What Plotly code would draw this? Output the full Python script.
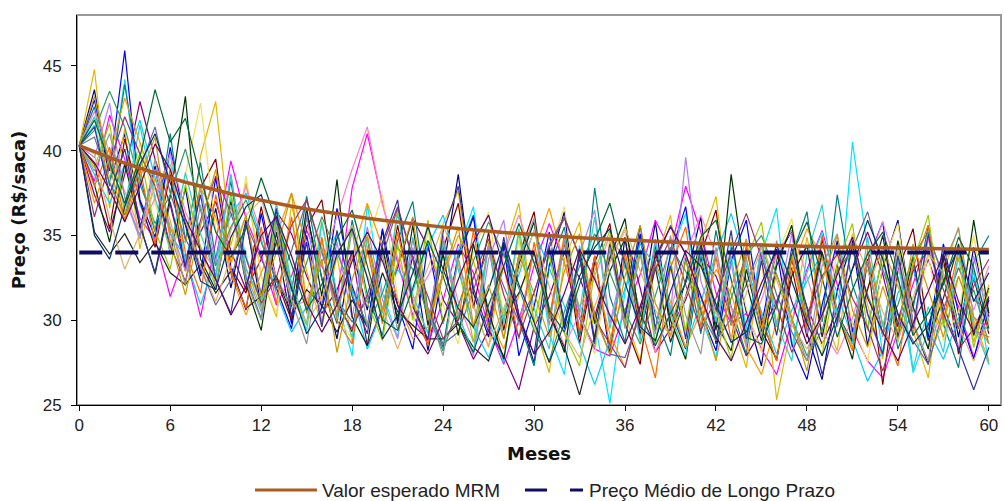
import plotly.graph_objects as go

# Months of the simulation horizon
meses = list(range(61))

# Expected value of the mean-reverting model (R$/saca)
valor_esperado = [
    40.30, 39.93, 39.59, 39.26, 38.96, 38.67, 38.40, 38.14, 37.90, 37.67,
    37.46, 37.26, 37.07, 36.89, 36.72, 36.56, 36.41, 36.27, 36.14, 36.01,
    35.90, 35.79, 35.68, 35.59, 35.49, 35.41, 35.32, 35.25, 35.17, 35.11,
    35.04, 34.98, 34.92, 34.87, 34.82, 34.77, 34.73, 34.68, 34.64, 34.61,
    34.57, 34.54, 34.51, 34.48, 34.45, 34.42, 34.40, 34.38, 34.35, 34.33,
    34.31, 34.30, 34.28, 34.26, 34.25, 34.23, 34.22, 34.21, 34.19, 34.18, 34.17,
]

# Long-run average price
preco_medio_lp = [34.0, 34.0]
preco_medio_x = [0, 60]

# Simulated price paths
s01 = [40.3, 43.6, 38.2, 41.0, 35.4, 39.1, 33.9, 37.8, 32.6, 36.6,
       31.9, 35.9, 30.8, 34.7, 29.8, 36.2, 32.5, 28.9, 34.1, 30.6,
       35.3, 29.8, 33.8, 28.2, 32.9, 38.6, 31.6, 29.0, 34.5, 30.3,
       27.5, 33.2, 36.4, 29.1, 33.8, 28.0, 34.9, 30.2, 35.8, 29.4,
       32.3, 36.1, 28.6, 34.4, 30.5, 27.3, 33.6, 35.3, 29.2, 26.5,
       31.8, 34.7, 28.5, 33.1, 35.9, 29.8, 27.4, 33.5, 29.0, 34.3, 30.2]
s02 = [40.3, 38.2, 42.1, 39.5, 36.0, 34.8, 31.4, 33.9, 30.2, 34.6,
       39.4, 36.0, 33.8, 30.9, 32.6, 35.3, 33.2, 31.2, 37.8, 41.0,
       36.9, 33.4, 30.3, 28.6, 31.2, 34.5, 32.8, 29.6, 27.4, 30.0,
       33.2, 35.7, 33.4, 30.1, 28.3, 27.9, 30.6, 32.7, 35.9, 34.1,
       37.9, 35.2, 31.6, 29.8, 30.4, 28.3, 26.8, 29.9, 33.0, 35.3,
       32.1, 29.5, 27.6, 26.6, 29.4, 32.1, 34.9, 32.7, 30.8, 27.8, 30.5]
s03 = [40.3, 44.8, 36.6, 41.3, 34.2, 38.4, 35.9, 32.0, 39.7, 42.9,
       34.4, 38.1, 32.6, 30.2, 36.8, 32.9, 29.6, 33.8, 28.7, 34.4,
       30.0, 36.6, 31.1, 29.3, 35.7, 37.6, 30.9, 28.4, 34.0, 36.9,
       29.8, 26.9, 33.6, 35.8, 28.9, 34.7, 30.3, 27.6, 33.4, 36.2,
       29.1, 34.6, 37.3, 30.0, 27.2, 33.7, 25.3, 29.8, 34.9, 30.5,
       28.2, 35.1, 30.9, 27.7, 34.0, 29.4, 26.6, 32.8, 35.5, 28.7, 32.1]
s04 = [40.3, 41.5, 38.0, 44.2, 36.8, 34.6, 39.9, 33.3, 38.0, 32.5,
       37.2, 33.8, 30.9, 36.5, 32.0, 29.4, 35.7, 31.2, 27.9, 36.8,
       31.6, 29.0, 34.9, 30.4, 28.2, 34.1, 36.7, 30.0, 27.5, 33.5,
       35.8, 29.2, 26.8, 34.4, 29.9, 25.1, 31.7, 35.0, 28.6, 33.8,
       36.3, 30.2, 27.8, 34.6, 29.5, 33.9, 36.6, 28.4, 32.8, 35.2,
       29.7, 40.5, 34.2, 28.0, 32.6, 26.9, 29.4, 34.0, 28.1, 32.9, 27.4]
s05 = [40.3, 37.4, 35.2, 38.6, 42.9, 39.5, 36.8, 33.1, 35.2, 37.0,
       34.1, 31.8, 33.6, 36.4, 35.1, 32.6, 30.4, 31.8, 34.0, 28.5,
       30.7, 33.1, 36.0, 34.3, 31.2, 29.8, 27.7, 29.4, 27.9, 25.9,
       29.6, 31.4, 34.0, 32.5, 30.2, 33.6, 35.3, 31.9, 28.1, 29.5,
       31.2, 33.8, 32.6, 30.2, 27.9, 29.4, 31.1, 33.5, 30.8, 28.6,
       30.6, 33.0, 35.2, 32.7, 29.1, 31.0, 33.6, 30.9, 28.3, 29.5, 31.4]
s06 = [40.3, 39.2, 35.4, 40.7, 37.0, 34.3, 38.6, 32.9, 37.8, 39.5,
       33.1, 31.6, 36.7, 32.4, 30.0, 35.5, 37.1, 31.2, 29.3, 34.8,
       30.5, 35.6, 31.0, 28.8, 34.2, 36.9, 30.7, 35.2, 29.4, 33.8,
       36.4, 30.1, 34.6, 28.6, 33.4, 35.7, 29.8, 27.4, 34.0, 30.6,
       28.3, 33.9, 36.5, 29.7, 34.3, 30.1, 27.6, 33.1, 29.0, 34.8,
       30.4, 28.7, 33.6, 26.2, 32.9, 35.4, 29.3, 33.7, 28.0, 32.5, 29.2]
s07 = [40.3, 42.6, 37.9, 43.9, 38.4, 35.2, 41.0, 34.7, 39.3, 33.6,
       38.2, 32.5, 30.1, 36.0, 31.7, 37.3, 32.4, 29.8, 35.9, 31.5,
       29.1, 34.7, 37.0, 30.6, 28.4, 33.9, 36.2, 29.7, 34.3, 30.0,
       27.3, 33.1, 35.5, 29.0, 37.8, 31.4, 28.7, 34.9, 30.3, 27.9,
       33.7, 29.2, 35.3, 30.8, 28.0, 34.5, 29.6, 33.8, 36.4, 29.9,
       37.4, 32.1, 29.5, 33.9, 28.3, 30.7, 35.6, 29.8, 27.2, 33.4, 35.0]
s08 = [40.3, 43.0, 38.8, 45.9, 37.1, 34.9, 40.2, 35.7, 32.8, 38.4,
       33.2, 30.6, 36.3, 31.9, 29.5, 35.0, 30.7, 36.6, 32.0, 29.6,
       35.4, 30.9, 28.3, 34.5, 29.8, 33.6, 36.1, 29.9, 34.4, 27.9,
       30.8, 35.2, 29.5, 33.7, 28.8, 34.3, 30.0, 35.1, 29.4, 33.9,
       36.7, 30.5, 28.2, 33.5, 35.9, 29.7, 34.2, 28.6, 26.5, 30.9,
       34.7, 29.3, 33.5, 35.8, 28.9, 33.2, 29.0, 34.5, 30.4, 27.7, 31.2]
s09 = [40.3, 38.6, 36.9, 39.2, 41.8, 38.4, 35.1, 33.7, 30.9, 33.6,
       36.2, 37.5, 34.8, 31.6, 29.3, 30.8, 33.4, 35.1, 31.7, 28.3,
       30.6, 33.0, 31.7, 34.4, 36.2, 33.0, 29.6, 27.8, 30.5, 32.7,
       35.3, 33.1, 30.9, 28.6, 26.2, 28.8, 31.9, 34.5, 33.2, 30.8,
       28.4, 31.1, 33.9, 36.3, 33.2, 30.5, 28.0, 30.6, 32.3, 34.0,
       31.6, 28.9, 26.4, 28.2, 31.6, 33.1, 29.4, 27.7, 30.1, 32.5, 30.0]
s10 = [40.3, 41.9, 38.3, 35.8, 40.5, 36.9, 34.1, 38.6, 42.8, 35.3,
       33.0, 38.5, 32.6, 30.4, 36.1, 31.6, 35.9, 30.2, 28.9, 34.6,
       37.4, 31.3, 29.5, 35.3, 30.9, 28.6, 34.0, 36.4, 30.1, 34.7,
       29.4, 33.9, 36.7, 30.3, 28.0, 33.5, 35.3, 29.9, 34.6, 30.2,
       27.7, 33.4, 29.5, 34.9, 30.7, 28.1, 33.8, 36.0, 30.2, 28.4,
       34.1, 29.8, 27.5, 33.3, 35.7, 29.6, 33.9, 28.8, 30.5, 35.0, 29.8]
s11 = [40.3, 42.3, 39.9, 37.6, 35.3, 37.2, 39.8, 36.4, 34.3, 32.9,
       35.3, 37.9, 35.1, 32.6, 30.7, 31.2, 33.4, 36.1, 38.9, 41.4,
       36.8, 33.7, 31.1, 32.6, 34.5, 31.1, 28.7, 30.3, 33.9, 36.2,
       33.4, 30.8, 28.5, 30.4, 32.6, 35.0, 33.5, 30.6, 28.1, 30.5,
       33.9, 36.2, 33.8, 30.7, 29.3, 31.2, 33.9, 35.3, 32.6, 29.4,
       28.0, 30.1, 33.3, 35.8, 33.0, 30.6, 28.4, 30.7, 33.1, 30.6, 33.2]
s12 = [40.3, 39.6, 42.8, 37.2, 34.8, 38.9, 35.5, 32.9, 37.8, 33.3,
       38.6, 32.7, 30.5, 35.8, 31.1, 36.3, 29.8, 34.6, 30.1, 35.5,
       31.2, 28.9, 34.3, 29.9, 35.0, 30.4, 27.9, 33.6, 35.9, 29.7,
       34.1, 30.3, 28.2, 33.9, 36.5, 29.8, 33.7, 29.0, 34.8, 30.4,
       39.6, 32.3, 29.7, 33.4, 28.5, 34.0, 30.6, 35.1, 29.2, 33.8,
       29.6, 34.5, 30.3, 27.9, 33.5, 29.1, 34.9, 30.2, 28.4, 33.8, 29.9]
s13 = [40.3, 36.9, 39.7, 43.1, 40.5, 37.9, 35.3, 34.6, 37.8, 36.1,
       32.7, 30.3, 32.8, 35.0, 37.5, 34.4, 31.0, 30.5, 33.8, 36.9,
       34.3, 31.2, 28.9, 29.6, 32.6, 35.0, 33.5, 30.2, 28.3, 31.5,
       34.0, 36.6, 33.3, 30.8, 32.6, 29.2, 27.2, 30.8, 33.4, 31.1,
       28.4, 30.5, 33.0, 31.6, 28.4, 26.8, 29.9, 32.9, 35.4, 33.7,
       30.2, 28.4, 31.9, 34.3, 32.0, 29.7, 27.6, 30.1, 32.6, 30.0, 27.6]
s14 = [40.3, 40.8, 38.1, 36.2, 39.0, 41.4, 37.5, 34.8, 33.1, 30.9,
       32.4, 35.7, 33.6, 31.8, 34.1, 37.1, 34.0, 31.2, 29.9, 31.2,
       33.8, 36.6, 33.6, 30.7, 28.6, 29.3, 31.8, 34.2, 32.0, 29.9,
       31.6, 34.5, 36.1, 33.7, 30.4, 28.0, 27.8, 30.3, 33.4, 35.6,
       33.9, 31.4, 28.8, 30.1, 32.1, 34.5, 31.5, 29.3, 27.6, 30.3,
       32.9, 34.2, 36.4, 33.0, 30.3, 28.8, 27.4, 30.6, 33.1, 31.2, 30.6]
s15 = [40.3, 38.0, 34.6, 39.2, 35.6, 32.8, 37.3, 43.2, 33.6, 31.8,
       37.0, 32.1, 29.4, 35.2, 30.8, 36.6, 31.4, 38.3, 30.2, 28.5,
       34.3, 30.0, 35.6, 29.7, 33.9, 29.1, 34.5, 30.5, 27.7, 33.3,
       35.8, 30.6, 28.1, 34.1, 29.8, 33.7, 36.0, 29.7, 34.4, 30.0,
       27.7, 33.8, 29.4, 38.6, 32.2, 28.8, 33.2, 35.6, 29.9, 34.0,
       30.5, 27.7, 33.5, 29.1, 34.7, 30.8, 28.3, 33.9, 29.6, 35.9, 30.4]
s16 = [40.3, 35.2, 33.9, 35.1, 33.4, 34.6, 32.8, 32.1, 33.3, 31.6,
       32.9, 30.7, 31.4, 32.6, 30.3, 31.8, 30.9, 29.3, 31.2, 29.6,
       32.8, 30.5, 29.7, 28.9, 28.9, 29.8, 28.4, 27.6, 30.2, 31.6,
       34.0, 30.3, 28.4, 25.6, 29.1, 32.9, 34.8, 29.2, 33.1, 28.7,
       31.4, 34.6, 29.8, 28.2, 33.0, 29.4, 27.7, 32.6, 34.4, 29.0,
       33.3, 28.6, 31.8, 35.0, 29.6, 33.7, 28.8, 31.3, 34.5, 29.1, 31.9]
s17 = [40.3, 41.2, 43.5, 41.4, 38.0, 35.7, 37.4, 40.1, 36.5, 33.2,
       35.5, 37.1, 34.6, 32.3, 30.9, 33.4, 36.1, 34.0, 31.8, 29.7,
       31.6, 34.3, 33.0, 30.3, 28.2, 30.9, 33.5, 35.8, 33.8, 31.9,
       29.4, 27.6, 30.5, 33.2, 35.1, 32.8, 30.5, 28.6, 31.4, 34.3,
       32.9, 30.5, 28.8, 31.3, 33.8, 35.0, 32.7, 30.1, 27.9, 29.4,
       32.9, 34.1, 31.5, 29.2, 30.9, 33.8, 35.2, 32.4, 29.7, 31.8, 28.6]
s18 = [40.3, 39.0, 41.6, 36.3, 39.9, 35.3, 33.0, 38.0, 34.3, 32.0,
       37.5, 33.1, 30.7, 36.2, 31.9, 29.7, 34.7, 30.3, 35.6, 31.1,
       28.8, 34.5, 30.0, 35.9, 29.8, 33.4, 28.7, 34.6, 30.1, 35.1,
       29.9, 33.9, 29.2, 27.3, 32.9, 35.3, 29.8, 34.2, 28.6, 33.5,
       29.4, 34.9, 30.6, 27.7, 33.6, 35.8, 29.6, 33.9, 30.2, 27.9,
       33.3, 35.7, 29.4, 34.0, 28.7, 33.4, 36.2, 29.6, 33.7, 28.4, 31.8]
s19 = [40.3, 37.9, 40.2, 35.9, 39.0, 34.5, 38.9, 34.0, 31.6, 37.4,
       32.9, 30.7, 35.5, 31.0, 36.1, 30.4, 34.9, 30.0, 28.6, 34.2,
       29.8, 35.2, 30.9, 28.5, 34.7, 30.0, 35.3, 29.6, 33.2, 28.9,
       34.6, 30.1, 35.0, 29.3, 33.8, 28.4, 34.0, 29.8, 26.6, 33.1,
       35.5, 29.6, 33.7, 28.8, 34.4, 30.2, 27.6, 33.7, 29.6, 35.0,
       30.5, 28.2, 34.1, 29.7, 27.3, 33.1, 35.6, 30.0, 34.2, 29.4, 29.0]
s20 = [40.3, 42.0, 39.5, 36.7, 41.5, 37.2, 34.2, 38.7, 35.1, 32.6,
       38.6, 33.0, 31.2, 36.9, 32.2, 29.8, 35.8, 31.6, 29.0, 34.9,
       30.4, 36.3, 31.5, 29.2, 34.6, 30.3, 28.1, 34.4, 29.8, 35.4,
       30.7, 28.3, 34.7, 30.5, 36.1, 29.5, 33.3, 28.8, 34.6, 30.4,
       27.9, 34.0, 29.9, 33.8, 28.7, 34.5, 29.8, 27.6, 33.9, 36.8,
       30.3, 28.6, 34.9, 29.6, 33.8, 27.1, 30.8, 28.1, 34.0, 29.7, 27.4]
s21 = [40.3, 36.1, 39.3, 42.0, 39.8, 37.9, 34.4, 32.3, 35.9, 38.5,
       36.3, 33.6, 31.0, 32.5, 35.6, 37.1, 34.1, 30.9, 29.5, 31.5,
       34.4, 36.7, 33.7, 31.4, 28.9, 30.0, 32.5, 34.8, 31.5, 29.0,
       31.7, 34.3, 36.0, 33.8, 30.1, 28.6, 27.2, 30.8, 33.0, 34.8,
       32.1, 29.4, 31.3, 34.0, 36.3, 33.7, 30.9, 28.1, 30.2, 32.6,
       33.9, 31.3, 29.6, 27.0, 30.0, 32.9, 34.1, 31.8, 29.5, 32.0, 33.6]
s22 = [40.3, 41.4, 37.4, 40.1, 35.7, 32.7, 37.0, 33.2, 37.4, 32.4,
       30.4, 35.7, 31.5, 36.6, 30.2, 34.6, 29.6, 35.3, 31.4, 29.2,
       34.6, 37.1, 30.8, 28.9, 35.2, 37.9, 31.9, 29.3, 34.9, 30.3,
       28.0, 34.3, 29.9, 33.8, 28.6, 34.5, 30.2, 35.6, 29.5, 33.2,
       28.9, 34.4, 30.5, 35.3, 28.9, 33.5, 29.1, 34.3, 30.7, 26.8,
       29.9, 34.5, 30.4, 28.0, 33.8, 29.5, 35.1, 30.4, 28.3, 25.9, 28.4]
s23 = [40.3, 39.8, 36.0, 33.0, 35.1, 37.9, 39.2, 35.9, 33.2, 31.1,
       33.7, 36.2, 37.1, 34.5, 31.2, 29.9, 31.3, 33.9, 35.6, 32.6,
       30.7, 28.3, 30.9, 33.1, 35.6, 33.4, 30.8, 28.5, 30.7, 33.0,
       35.3, 32.0, 29.3, 27.8, 30.8, 33.4, 35.5, 32.9, 30.6, 29.0,
       31.4, 33.3, 30.4, 28.9, 31.6, 34.3, 32.4, 29.7, 28.3, 30.2,
       32.7, 35.0, 32.9, 30.5, 28.8, 31.3, 33.9, 32.8, 29.7, 27.6, 30.0]
s24 = [40.3, 38.8, 41.0, 37.3, 35.0, 39.5, 35.2, 32.1, 36.8, 31.9,
       36.8, 32.3, 30.0, 35.5, 31.2, 28.6, 34.3, 30.1, 35.3, 29.6,
       33.9, 29.4, 34.8, 30.6, 27.9, 33.7, 29.5, 34.4, 28.9, 33.6,
       36.0, 29.7, 34.7, 30.3, 28.4, 34.3, 29.5, 33.9, 29.2, 35.0,
       30.3, 28.0, 34.3, 29.7, 33.7, 29.0, 34.7, 30.0, 27.6, 33.2,
       35.1, 29.0, 33.5, 29.0, 34.4, 29.9, 27.6, 33.3, 35.4, 30.2, 29.4]
s25 = [40.3, 35.0, 33.6, 36.7, 39.2, 41.0, 38.1, 35.6, 32.3, 31.8,
       34.9, 36.7, 37.4, 34.6, 31.9, 29.2, 30.7, 33.9, 35.4, 32.5,
       28.9, 30.3, 32.8, 35.5, 33.0, 30.7, 29.6, 31.8, 34.6, 32.1,
       29.9, 27.5, 29.8, 32.6, 34.3, 35.4, 32.2, 29.6, 28.8, 31.7,
       34.1, 33.2, 30.9, 28.7, 29.3, 31.7, 34.4, 32.3, 29.8, 27.9,
       30.2, 33.1, 35.9, 33.6, 30.4, 28.6, 29.7, 32.3, 34.3, 31.1, 32.8]
s26 = [40.3, 41.8, 39.3, 36.9, 39.6, 43.6, 40.5, 41.9, 38.4, 35.2,
       33.7, 35.4, 38.4, 35.9, 33.3, 30.6, 32.1, 34.8, 36.5, 33.2,
       30.0, 29.4, 31.9, 34.7, 32.6, 29.8, 28.1, 30.9, 33.2, 35.7,
       33.4, 30.6, 29.3, 32.1, 34.7, 36.9, 33.3, 30.4, 28.5, 30.4,
       32.2, 34.9, 35.9, 32.4, 29.0, 28.6, 30.9, 33.9, 35.8, 32.5,
       29.0, 31.8, 33.9, 35.2, 32.5, 29.1, 30.4, 32.1, 34.9, 33.1, 29.5]
s27 = [40.3, 43.2, 39.1, 35.8, 38.4, 40.8, 34.7, 31.5, 35.6, 38.9,
       33.4, 36.2, 31.4, 34.0, 37.5, 30.9, 33.6, 28.1, 32.4, 35.0,
       30.6, 33.3, 36.1, 30.0, 32.8, 35.5, 29.7, 32.1, 28.9, 33.9,
       31.6, 29.0, 32.9, 35.1, 30.2, 28.0, 32.6, 35.6, 31.0, 29.1,
       33.5, 30.8, 27.6, 31.9, 34.8, 29.5, 32.7, 30.1, 27.0, 32.3,
       35.0, 30.6, 28.4, 32.0, 29.3, 34.5, 31.8, 29.0, 32.6, 30.2, 28.6]
s28 = [40.3, 39.3, 37.7, 35.8, 37.9, 40.4, 38.9, 36.0, 34.1, 32.4,
       30.3, 32.0, 35.0, 36.1, 33.8, 31.0, 29.3, 30.9, 33.5, 35.2,
       33.5, 30.9, 29.4, 28.0, 30.0, 32.4, 34.6, 36.2, 33.1, 30.1,
       28.0, 29.3, 31.6, 34.2, 32.4, 30.3, 28.6, 30.8, 33.7, 35.5,
       33.9, 31.4, 29.0, 27.6, 29.9, 32.2, 34.1, 31.1, 28.6, 30.3,
       32.7, 34.9, 31.3, 29.3, 27.6, 29.8, 31.7, 33.9, 31.1, 29.3, 31.3]

trajetorias = [s01, s02, s03, s04, s05, s06, s07, s08, s09, s10, s11, s12, s13, s14,
               s15, s16, s17, s18, s19, s20, s21, s22, s23, s24, s25, s26, s27, s28]
assert all(len(s) == len(meses) for s in trajetorias)

cores = ["#000080", "#FF00FF", "#E6B800", "#00E5FF", "#800080", "#800000",
         "#008080", "#0000FF", "#00CCFF", "#F0E060", "#FF80C0", "#B080F0",
         "#FF9900", "#666699", "#003300", "#222222", "#339966", "#99CC00",
         "#FF6600", "#33CCCC", "#993366", "#333399", "#E0B070", "#969696",
         "#003366", "#006633", "#CC9900", "#660066"]

COR_ESPERADO = "#AD5A1E"
COR_MEDIO = "#0D0D66"

fig = go.Figure()

for serie, cor in zip(trajetorias, cores):
    fig.add_trace(go.Scatter(
        x=meses, y=serie, mode="lines",
        line=dict(color=cor, width=1.2),
        showlegend=False, hoverinfo="skip",
    ))

# Reference curves on top of the simulated paths
fig.add_trace(go.Scatter(
    x=meses, y=valor_esperado, mode="lines", name="Valor esperado MRM",
    line=dict(color=COR_ESPERADO, width=3.5), showlegend=False,
))
fig.add_trace(go.Scatter(
    x=preco_medio_x, y=preco_medio_lp, mode="lines", name="Preço Médio de Longo Prazo",
    line=dict(color=COR_MEDIO, width=4, dash="23px,13px"), showlegend=False,
))

# Plot-area frame (light grey on top and right)
shapes = [dict(type="rect", xref="paper", yref="paper", x0=0, y0=0, x1=1, y1=1,
               line=dict(color="#9a9a9a", width=2), layer="below")]

# Legend drawn below the axis
LEG_Y = -0.218
shapes += [
    dict(type="line", xref="paper", yref="paper", x0=0.1926, x1=0.2597, y0=LEG_Y, y1=LEG_Y,
         line=dict(color=COR_ESPERADO, width=3)),
    dict(type="line", xref="paper", yref="paper", x0=0.4848, x1=0.5087, y0=LEG_Y, y1=LEG_Y,
         line=dict(color=COR_MEDIO, width=3)),
    dict(type="line", xref="paper", yref="paper", x0=0.5335, x1=0.5476, y0=LEG_Y, y1=LEG_Y,
         line=dict(color=COR_MEDIO, width=3)),
]
annotations = [
    dict(text="Valor esperado MRM", xref="paper", yref="paper", x=0.263, y=LEG_Y,
         xanchor="left", yanchor="middle", showarrow=False,
         font=dict(family="Liberation Sans, Arial, sans-serif", size=19, color="#222222")),
    dict(text="Preço Médio de Longo Prazo", xref="paper", yref="paper", x=0.552, y=LEG_Y,
         xanchor="left", yanchor="middle", showarrow=False,
         font=dict(family="Liberation Sans, Arial, sans-serif", size=19, color="#222222")),
]

fig.update_layout(
    width=1004, height=501,
    margin=dict(l=77, r=3, t=15, b=96),
    paper_bgcolor="white", plot_bgcolor="white",
    font=dict(family="Liberation Sans, Arial, sans-serif", size=17, color="#222222"),
    showlegend=False,
    shapes=shapes,
    annotations=annotations,
    xaxis=dict(
        range=[-0.15, 60.8], tickmode="array", tickvals=list(range(0, 61, 6)),
        showgrid=False, zeroline=False, showline=True, linecolor="black", linewidth=1,
        ticks="outside", ticklen=5, tickcolor="black",
        title=dict(text="<b>Meses</b>", standoff=12,
                   font=dict(family="DejaVu Sans, sans-serif", size=18, color="#111111")),
    ),
    yaxis=dict(
        range=[25, 48], tickmode="array", tickvals=[25, 30, 35, 40, 45],
        showgrid=False, zeroline=False, showline=True, linecolor="black", linewidth=1,
        ticks="outside", ticklen=5, tickcolor="black", ticklabelstandoff=6,
        title=dict(text="<b>Preço (R$/saca)</b>", standoff=12,
                   font=dict(family="DejaVu Sans, sans-serif", size=18, color="#111111")),
    ),
)

fig.write_html("out.html")
